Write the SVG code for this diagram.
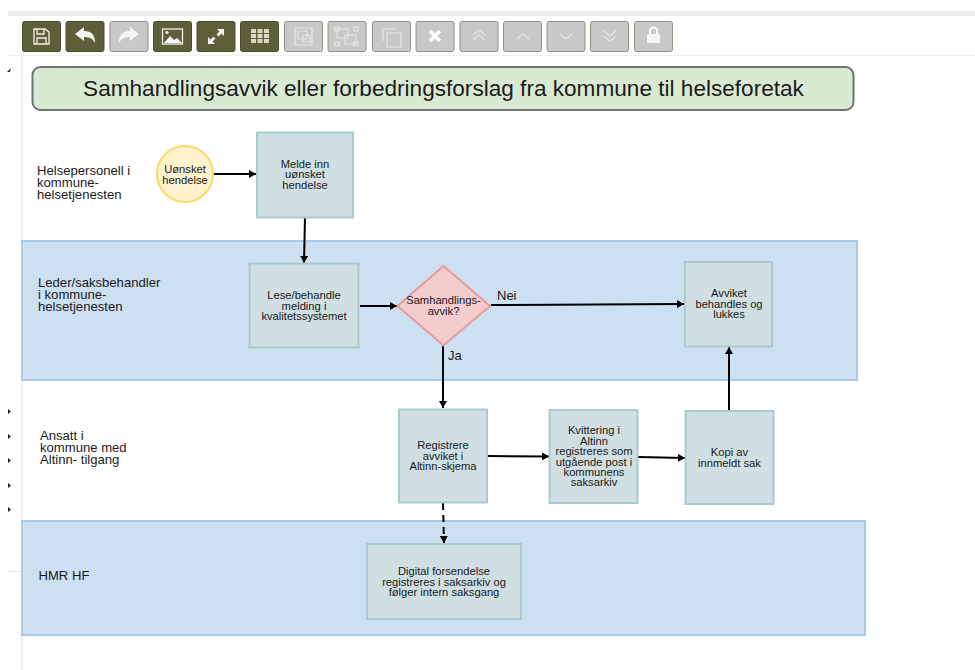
<svg xmlns="http://www.w3.org/2000/svg" width="975" height="670" viewBox="0 0 975 670">
<defs>
<marker id="arrow" markerUnits="userSpaceOnUse" markerWidth="8" markerHeight="8" refX="7" refY="4" orient="auto"><path d="M0,0L7,4L0,8Z" fill="#000"/></marker>
</defs>
<style>
text{font-family:"Liberation Sans",Arial,sans-serif;fill:#1a1a1a}
.n{font-size:11.2px;text-anchor:middle}
.l{font-size:13.1px}
.proc{fill:#cfdfe2;stroke:#a9cbd0;stroke-width:2}
.lane{fill:#cde0f2;stroke:#a9cbea;stroke-width:2}
.c{fill:none;stroke:#000;stroke-width:2;marker-end:url(#arrow)}
.on{fill:#5d5f38;stroke:#4a4c30;stroke-width:1}
.off{fill:#c8c8c8;stroke:#8f9080;stroke-width:1}
.ic{fill:none;stroke:#f0f0f0;stroke-width:1.3}
.if{fill:#f4f4f4}
.ig{fill:none;stroke:#e6e6e6;stroke-width:1.2}
</style>
<rect width="975" height="670" fill="#fff"/>
<g id="chrome">
<rect x="8" y="11" width="967" height="5" fill="#efefef"/>
<rect x="8" y="55" width="967" height="1" fill="#efefef"/>
<rect x="21" y="56" width="2" height="614" fill="#f0f0f0"/>
<rect x="8" y="571" width="14" height="1" fill="#e6e6e6"/>
<path d="M7,72L11,68L10,72Z" fill="#222"/>
<path d="M8,409l3,2.500l-3,2.500Z M8,434l3,2.500l-3,2.500Z M8,458l3,2.500l-3,2.500Z M8,483l3,2.500l-3,2.500Z M8,507l3,2.500l-3,2.500Z" fill="#222"/>
</g>
<g id="toolbar">
<rect class="on" x="22.500" y="21.500" width="38" height="30" rx="2"/>
<path class="ic" d="M34,29h11l4,3v12h-15Z M37,29v5h7v-5 M37,44v-6h9v6"/>
<rect class="on" x="66" y="21.500" width="38" height="30" rx="2"/>
<path class="if" d="M75,34l9,-7v4c9,0 11,5 11,12c-2,-4 -5,-6 -11,-6v4Z"/>
<rect class="off" x="110" y="21.500" width="38" height="30" rx="2"/>
<path class="if" d="M139,34l-9,-7v4c-9,0 -11,5 -11,12c2,-4 5,-6 11,-6v4Z"/>
<rect class="on" x="153.500" y="21.500" width="38" height="30" rx="2"/>
<rect class="ic" x="162.500" y="29" width="20" height="15"/><path class="if" d="M164,43l6,-7l4,4l3,-2l5,5Z"/><circle class="if" cx="167" cy="32.500" r="1.600"/>
<rect class="on" x="197" y="21.500" width="38" height="30" rx="2"/>
<path class="if" d="M217,29h7v7l-2.500,-2.500l-3,3l-2,-2l3,-3Z M215,44h-7v-7l2.500,2.500l3,-3l2,2l-3,3Z"/>
<rect class="on" x="240.500" y="21.500" width="38" height="30" rx="2"/>
<path d="M251,29h5v4h-5Z M257.500,29h5v4h-5Z M264,29h5v4h-5Z M251,34h5v4h-5Z M257.500,34h5v4h-5Z M264,34h5v4h-5Z M251,39h5v4h-5Z M257.500,39h5v4h-5Z M264,39h5v4h-5Z" fill="#d9d9c8"/>
<rect class="off" x="284.500" y="21.500" width="38" height="30" rx="2"/>
<path class="ig" d="M295,28h17v17h-17Z M298,31h9v8h-9Z M303,35h7v7h-7Z"/>
<rect class="off" x="328" y="21.500" width="38" height="30" rx="2"/>
<path class="ig" d="M337,29h11v9h-11Z M345,35h11v9h-11Z M335,27h4v4h-4Z M354,27h4v4h-4Z M335,42h4v4h-4Z M354,42h4v4h-4Z"/>
<rect class="off" x="372.500" y="21.500" width="38" height="30" rx="2"/>
<path class="ig" d="M383,41v-12h12 M387,33h14v14h-14Z"/>
<rect class="off" x="416" y="21.500" width="38" height="30" rx="2"/>
<path d="M430,31l10,10M440,31l-10,10" fill="none" stroke="#fff" stroke-width="3.500"/>
<rect class="off" x="460" y="21.500" width="38" height="30" rx="2"/>
<path class="ig" d="M473,35l6,-5l6,5 M473,40l6,-5l6,5"/>
<rect class="off" x="503.500" y="21.500" width="38" height="30" rx="2"/>
<path class="ig" d="M517,39l6,-5l6,5"/>
<rect class="off" x="547" y="21.500" width="38" height="30" rx="2"/>
<path class="ig" d="M560,34l6,5l6,-5"/>
<rect class="off" x="590.500" y="21.500" width="38" height="30" rx="2"/>
<path class="ig" d="M604,31l6,5l6,-5 M604,36l6,5l6,-5"/>
<rect class="off" x="634.500" y="21.500" width="38" height="30" rx="2"/>
<rect class="if" x="647" y="34" width="13" height="9" rx="1"/><path d="M650,34v-3a3.500,3.500 0 0 1 7,0v3" fill="none" stroke="#fff" stroke-width="2"/>
</g>
<g id="lanes">
<rect id="lane-leder" class="lane" x="22" y="241" width="835" height="139"/>
<rect id="lane-hmr" class="lane" x="22" y="521" width="843" height="114"/>
</g>
<g id="title">
<rect x="32.500" y="67" width="821" height="43" rx="8" fill="#d9ead3" stroke="#6f736f" stroke-width="2"/>
<text x="443.500" y="96" font-size="22.600" text-anchor="middle">Samhandlingsavvik eller forbedringsforslag fra kommune til helseforetak</text>
</g>
<g id="connectors">
<path class="c" d="M214,174L256,174"/>
<path class="c" d="M305,217L304,263"/>
<path class="c" d="M360,306L397,306"/>
<path class="c" d="M491,305L684,304"/>
<path class="c" d="M443,346L443,408"/>
<path class="c" d="M488,456L549,456.500"/>
<path class="c" d="M638,457L685,458"/>
<path class="c" d="M729,410L729,347"/>
<path class="c" d="M443,503L444,543" stroke-dasharray="7 5"/>
</g>
<g id="lbl-helse"><text class="l"><tspan x="37" y="175">Helsepersonell i</tspan><tspan x="37" y="187">kommune-</tspan><tspan x="37" y="198.500">helsetjenesten</tspan></text></g>
<g id="lbl-leder"><text class="l"><tspan x="38" y="287">Leder/saksbehandler</tspan><tspan x="38" y="299">i kommune-</tspan><tspan x="38" y="311">helsetjenesten</tspan></text></g>
<g id="lbl-ansatt"><text class="l"><tspan x="40" y="439.500">Ansatt i</tspan><tspan x="40" y="451.500">kommune med</tspan><tspan x="40" y="463.500">Altinn- tilgang</tspan></text></g>
<g id="lbl-hmr"><text class="l" x="38.500" y="580">HMR HF</text></g>
<g id="start">
<circle cx="185" cy="174" r="28" fill="#fff2cc" stroke="#ffd966" stroke-width="2"/>
<text class="n"><tspan x="185" y="173">Uønsket</tspan><tspan x="185" y="184">hendelse</tspan></text>
</g>
<g id="melde">
<rect class="proc" x="257" y="132.500" width="96" height="85"/>
<text class="n"><tspan x="305" y="168">Melde inn</tspan><tspan x="305" y="178">uønsket</tspan><tspan x="305" y="189">hendelse</tspan></text>
</g>
<g id="lese">
<rect class="proc" x="249.500" y="263.500" width="109" height="84"/>
<text class="n"><tspan x="304" y="299">Lese/behandle</tspan><tspan x="304" y="309.500">melding i</tspan><tspan x="304" y="320">kvalitetssystemet</tspan></text>
</g>
<g id="beslutning">
<path d="M443.500,266L490,306L443.500,345.500L397.500,306Z" fill="#f4cccc" stroke="#ea9999" stroke-width="2"/>
<text class="n"><tspan x="443.500" y="304">Samhandlings-</tspan><tspan x="443.500" y="315">avvik?</tspan></text>
</g>
<g id="avviket">
<rect class="proc" x="685" y="262" width="87" height="84.500"/>
<text class="n"><tspan x="729" y="297">Avviket</tspan><tspan x="729" y="307.500">behandles og</tspan><tspan x="729" y="318">lukkes</tspan></text>
</g>
<g id="registrere">
<rect class="proc" x="399" y="409.500" width="88" height="93"/>
<text class="n"><tspan x="443" y="449">Registrere</tspan><tspan x="443" y="459.500">avviket i</tspan><tspan x="443" y="470">Altinn-skjema</tspan></text>
</g>
<g id="kvittering">
<rect class="proc" x="549.500" y="410" width="88" height="93"/>
<text class="n"><tspan x="594" y="434">Kvittering i</tspan><tspan x="594" y="445">Altinn</tspan><tspan x="594" y="455">registreres som</tspan><tspan x="594" y="465.500">utgående post i</tspan><tspan x="594" y="476">kommunens</tspan><tspan x="594" y="486">saksarkiv</tspan></text>
</g>
<g id="kopi">
<rect class="proc" x="685.500" y="411" width="88" height="93"/>
<text class="n"><tspan x="729.500" y="456">Kopi av</tspan><tspan x="729.500" y="467">innmeldt sak</tspan></text>
</g>
<g id="digital">
<rect class="proc" x="367" y="544" width="154" height="75"/>
<text class="n"><tspan x="444" y="575">Digital forsendelse</tspan><tspan x="444" y="585.500">registreres i saksarkiv og</tspan><tspan x="444" y="595.500">følger intern saksgang</tspan></text>
</g>
<g id="edge-labels">
<text x="497" y="300" font-size="13">Nei</text>
<text x="448" y="360" font-size="13">Ja</text>
</g>
</svg>
